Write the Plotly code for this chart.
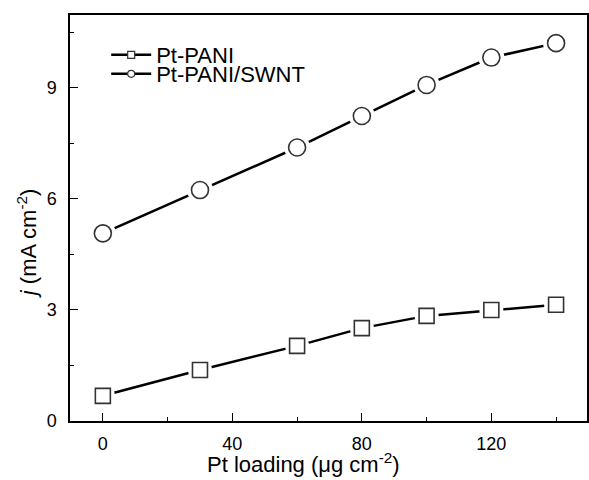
import plotly.graph_objects as go

pt_loading = [0, 30, 60, 80, 100, 120, 140]
pt_pani = [0.68, 1.38, 2.03, 2.51, 2.84, 3.00, 3.14]
pt_pani_swnt = [5.07, 6.24, 7.39, 8.24, 9.08, 9.82, 10.21]
series_names = ["Pt-PANI", "Pt-PANI/SWNT"]

FONT = "Liberation Sans, Arial, sans-serif"

fig = go.Figure()

for ys, sym, size, name, leg in [
    (pt_pani, "square", 15, series_names[0], "legend"),
    (pt_pani_swnt, "circle", 17, series_names[1], "legend2"),
]:
    # connecting line
    fig.add_trace(go.Scatter(x=pt_loading, y=ys, mode="lines",
                             line=dict(color="black", width=2.5),
                             showlegend=False, hoverinfo="skip"))
    # white halo to break the line near markers
    fig.add_trace(go.Scatter(x=pt_loading, y=ys, mode="markers",
                             marker=dict(symbol="circle", size=size + 9, color="white",
                                         line=dict(width=0)),
                             showlegend=False, hoverinfo="skip"))
    # open markers
    fig.add_trace(go.Scatter(x=pt_loading, y=ys, mode="markers",
                             marker=dict(symbol=sym, size=size, color="white",
                                         line=dict(color="#333333", width=1.6)),
                             showlegend=False))
    # legend entry
    fig.add_trace(go.Scatter(x=[None], y=[None], mode="lines+markers", name=name,
                             line=dict(color="black", width=2.5),
                             marker=dict(symbol=sym, size=7, color="white",
                                         line=dict(color="#333333", width=1.2)),
                             showlegend=True, legend=leg))

axis_common = dict(
    showline=True, linecolor="black", linewidth=1.5, mirror=True,
    ticks="inside", ticklen=8, tickwidth=1.3, tickcolor="black",
    showgrid=False, zeroline=False,
    tickfont=dict(family=FONT, size=18, color="black"),
)

fig.update_xaxes(range=[-10.15, 149.55], tick0=0, dtick=40,
                 minor=dict(dtick=20, ticks="inside", ticklen=4, tickwidth=1.3, tickcolor="black"),
                 ticklabelstandoff=6, **axis_common)
fig.update_yaxes(range=[0, 10.97], tick0=0, dtick=3,
                 minor=dict(dtick=1.5, ticks="inside", ticklen=4, tickwidth=1.3, tickcolor="black"),
                 ticklabelstandoff=8, **axis_common)

legend_common = dict(xanchor="left", yanchor="middle", bgcolor="rgba(0,0,0,0)",
                     borderwidth=0, itemwidth=40,
                     font=dict(family=FONT, size=22, color="black"))
fig.update_layout(
    width=589, height=480,
    margin=dict(l=70, r=0, t=15, b=59),
    paper_bgcolor="white", plot_bgcolor="white",
    showlegend=True,
    legend=dict(x=0.07, y=(421 - 55) / 406, **legend_common),
    legend2=dict(x=0.07, y=(421 - 74) / 406, **legend_common),
    annotations=[
        dict(text="Pt loading (μg cm<sup>-2</sup>)", xref="paper", yref="paper",
             x=(304 - 70) / 519, y=(421 - 463) / 406, showarrow=False,
             xanchor="center", yanchor="middle",
             font=dict(family=FONT, size=22, color="black")),
        dict(text="<i>j</i> (mA cm<sup>-2</sup>)", xref="paper", yref="paper",
             x=(27 - 70) / 519, y=(421 - 243) / 406, showarrow=False, textangle=-90,
             xanchor="center", yanchor="middle",
             font=dict(family=FONT, size=22, color="black")),
    ],
)

fig.write_html("out.html", config={"displayModeBar": False},
               post_script="document.body.style.margin='0';document.body.style.padding='0';")
